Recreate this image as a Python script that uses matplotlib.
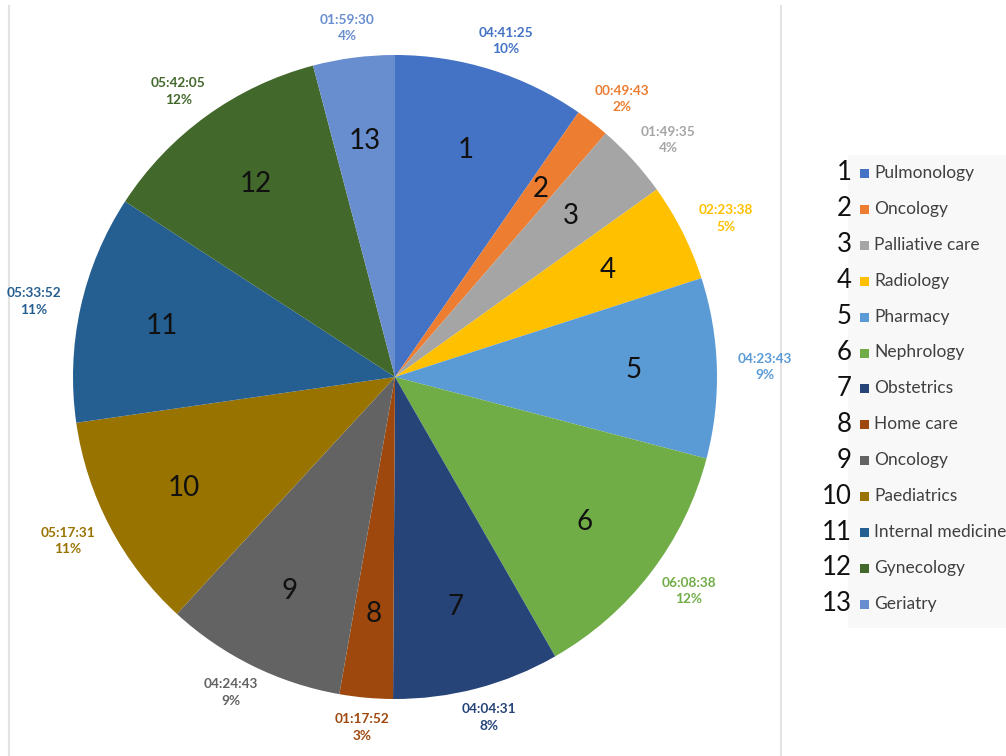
import numpy as np
import matplotlib.pyplot as plt
from matplotlib.patches import Rectangle
from matplotlib.lines import Line2D

# durations per department (hh:mm:ss), clockwise from the top
departments = ["Pulmonology", "Oncology", "Palliative care", "Radiology", "Pharmacy",
               "Nephrology", "Obstetrics", "Home care", "Oncology", "Paediatrics",
               "Internal medicine", "Gynecology", "Geriatry"]
durations = ["04:41:25", "00:49:43", "01:49:35", "02:23:38", "04:23:43",
             "06:08:38", "04:04:31", "01:17:52", "04:24:43", "05:17:31",
             "05:33:52", "05:42:05", "01:59:30"]
pct_labels = ["10%", "2%", "4%", "5%", "9%", "12%", "8%", "3%", "9%", "11%",
              "11%", "12%", "4%"]
colors = ["#4472C4", "#ED7D31", "#A5A5A5", "#FFC000", "#5B9BD5", "#70AD47",
          "#264478", "#9E480E", "#636363", "#997300", "#255E91", "#43682B",
          "#698ED0"]

def to_sec(s):
    h, m, sec = s.split(":")
    return int(h) * 3600 + int(m) * 60 + int(sec)

seconds = np.array([to_sec(d) for d in durations])
numbers = [str(i + 1) for i in range(len(departments))]

W, H = 1006, 756
fig = plt.figure(figsize=(W / 100, H / 100), dpi=100)
ax = fig.add_axes([0, 0, 1, 1])

cx, cy, r = 395, H - 377, 322
font = ["Lato", "DejaVu Sans"]

wedges, texts = ax.pie(seconds, colors=colors, startangle=90, counterclock=False,
                       center=(cx, cy), radius=r, labels=numbers, labeldistance=0.74,
                       frame=True,
                       textprops=dict(fontsize=20, family=font, color="#111111",
                                      ha="center", va="center"))
ax.set_xlim(0, W)
ax.set_ylim(0, H)
ax.set_aspect("equal")
ax.axis("off")

# outside labels with duration and share
frac = seconds / seconds.sum()
mids = np.cumsum(frac) - frac / 2
for i, m in enumerate(mids):
    ang = 2 * np.pi * m
    x = cx + (r + 48) * np.sin(ang)
    y = cy + (r + 30) * np.cos(ang)
    ax.text(x, y, durations[i] + "\n" + pct_labels[i], ha="center", va="center",
            fontsize=9.8, fontweight="bold", color=colors[i], family=font,
            linespacing=1.45)

# frame lines of the chart area
ax.add_line(Line2D([9, 9], [0, H - 6], color="#e3e3e3", lw=1.5))
ax.add_line(Line2D([781, 781], [0, H - 6], color="#e3e3e3", lw=1.5))

# legend
ax.add_patch(Rectangle((848, H - 628), 170, 473, facecolor="#f8f8f8",
                       edgecolor="none"))
y0, step = H - 173, 35.9
for i, name in enumerate(departments):
    y = y0 - i * step
    ax.text(852, y, numbers[i], ha="right", va="center", fontsize=18.5,
            family=font, color="#111111")
    ax.add_patch(Rectangle((860, y - 5), 9, 9, facecolor=colors[i], edgecolor="none"))
    ax.text(874, y, name, ha="left", va="center", fontsize=12.5, family=font,
            color="#404040")

fig.savefig("out.png", dpi=100)
